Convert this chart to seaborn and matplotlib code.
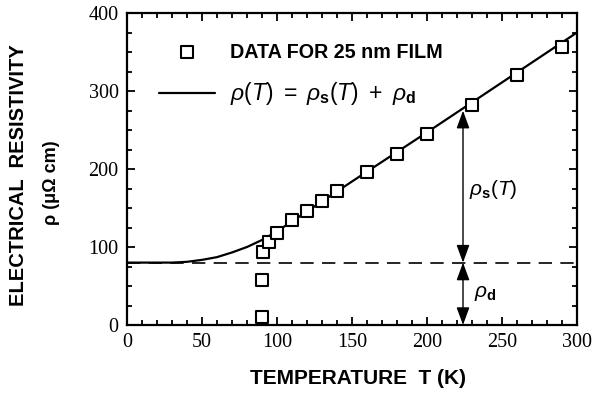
import numpy as np
import pandas as pd
import matplotlib
matplotlib.use("Agg")
import matplotlib.pyplot as plt
import seaborn as sns
from matplotlib.ticker import MultipleLocator

# measured data for the 25 nm film
temp_K = [90, 90, 91, 95, 100, 110, 120, 130, 140, 160, 180, 200, 230, 260, 290]
rho_meas = [10, 58, 93, 106, 118, 134, 146, 159, 172, 196, 219, 245, 282, 320, 356]

# fitted curve rho(T) = rho_s(T) + rho_d
fit_T = [0, 30, 40, 50, 60, 70, 80, 90, 100, 150, 200, 250, 300]
fit_rho = [80, 80, 81, 83.5, 87, 93, 100, 109, 120, 184, 247, 311, 375]

rho_d = 80
arrow_T = 224

sns.set_theme(style="ticks")
plt.rcParams["font.family"] = ["Liberation Sans", "DejaVu Sans"]
plt.rcParams["mathtext.fontset"] = "custom"
plt.rcParams["mathtext.rm"] = "Liberation Sans"
plt.rcParams["mathtext.it"] = "Liberation Sans:italic"
plt.rcParams["mathtext.bf"] = "Liberation Sans:bold"
plt.rcParams["text.color"] = "black"
plt.rcParams["xtick.color"] = "black"
plt.rcParams["ytick.color"] = "black"

df = pd.DataFrame({"T": temp_K, "rho": rho_meas})
fit = pd.DataFrame({"T": fit_T, "rho": fit_rho})

fig = plt.figure(figsize=(6.03, 4.0), dpi=100)
ax = fig.add_axes([0.2106, 0.1875, 0.7463, 0.78])

sns.lineplot(data=fit, x="T", y="rho", ax=ax, color="black", lw=1.6,
             label=r"$\rho(T)\ =\ \rho_{\mathbf{s}}(T)\ +\ \rho_{\mathbf{d}}$", zorder=2)
sns.scatterplot(data=df, x="T", y="rho", ax=ax, marker="s", s=70,
                facecolors="white", edgecolor="black", linewidth=1.5,
                label="DATA FOR 25 nm FILM", zorder=3)

ax.axhline(rho_d, color="black", lw=1.2, ls=(0, (8, 5)), zorder=1)

# double arrows for rho_s(T) and rho_d
top = np.interp(arrow_T, fit_T, fit_rho) - 3
arr = dict(arrowstyle="<|-|>,head_length=0.6,head_width=0.22", color="black", lw=1.0,
           mutation_scale=18, shrinkA=0, shrinkB=0)
ax.annotate("", xy=(arrow_T, top), xytext=(arrow_T, rho_d), arrowprops=arr)
ax.annotate("", xy=(arrow_T, rho_d), xytext=(arrow_T, 0), arrowprops=arr)
ax.text(arrow_T + 4, (top + rho_d) / 2 - 4, r"$\rho_{\mathbf{s}}(T)$", fontsize=15, va="center", ha="left")
ax.text(arrow_T + 7, rho_d / 2, r"$\rho_{\mathbf{d}}$", fontsize=15, va="center", ha="left")

ax.set_xlim(0, 300)
ax.set_ylim(0, 400)
ax.xaxis.set_major_locator(MultipleLocator(50))
ax.xaxis.set_minor_locator(MultipleLocator(10))
ax.yaxis.set_major_locator(MultipleLocator(100))
ax.yaxis.set_minor_locator(MultipleLocator(25))
ax.tick_params(which="both", direction="in", top=True, right=True, color="black", width=1.3)
ax.tick_params(which="major", length=6, labelsize=14.5, pad=6)
ax.tick_params(which="minor", length=3.5)
for lab in ax.get_xticklabels() + ax.get_yticklabels():
    lab.set_fontfamily("Liberation Serif")
for sp in ax.spines.values():
    sp.set_visible(True)
    sp.set_linewidth(1.6)
    sp.set_color("black")

ax.set_xlabel("")
ax.set_ylabel("")
ax.text(0.513, -0.17, "TEMPERATURE  T (K)", transform=ax.transAxes, ha="center", va="center",
        fontsize=15, fontweight="bold")
ax.text(-0.242, 0.48, "ELECTRICAL  RESISTIVITY", transform=ax.transAxes, ha="center", va="center",
        rotation=90, fontsize=14.5, fontweight="bold")
ax.text(-0.167, 0.455, "ρ (μΩ cm)", transform=ax.transAxes, ha="center", va="center",
        rotation=90, fontsize=13, fontweight="bold")

h, l = ax.get_legend_handles_labels()
leg = ax.legend([h[1], h[0]], [l[1], l[0]], loc="upper left", bbox_to_anchor=(0.071, 0.905),
                frameon=False, borderaxespad=0, borderpad=0, handlelength=2.85,
                handletextpad=0.75, labelspacing=0.95, fontsize=14.2, scatterpoints=1)
leg.get_texts()[0].set_fontweight("bold")
leg.get_texts()[1].set_fontsize(16.5)

fig.savefig("out.png", dpi=100)
